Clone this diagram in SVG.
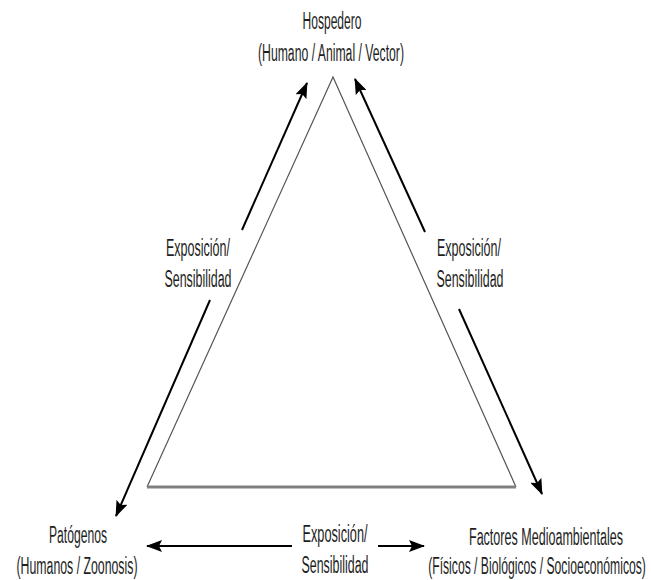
<svg xmlns="http://www.w3.org/2000/svg" width="651" height="580" viewBox="0 0 651 580">
<defs>
<style>
text{font-family:"Liberation Sans",Arial,sans-serif;font-size:23.5px;fill:#1e1e1e;text-anchor:middle}
.arr{stroke:#000;stroke-width:2;fill:none;marker-end:url(#ah)}
.side{stroke:#555;stroke-width:1.2;fill:none}
.base{stroke:#808080;stroke-width:3;fill:none}
</style>
<marker id="ah" markerUnits="userSpaceOnUse" markerWidth="16" markerHeight="12" viewBox="0 0 16 12" refX="15" refY="6" orient="auto">
<path d="M0,0 L16,6 L0,12 L3,6 z" fill="#000"/>
</marker>
</defs>
<rect width="651" height="580" fill="#fff"/>
<g id="triangle">
<path class="side" d="M147,487 L333,77 L516,487"/>
<line class="base" x1="147" y1="487" x2="516" y2="487"/>
</g>
<g id="connectors">
<line class="arr" x1="242" y1="230" x2="307" y2="83"/>
<line class="arr" x1="210" y1="300" x2="116" y2="516"/>
<line class="arr" x1="425" y1="232" x2="355" y2="79"/>
<line class="arr" x1="459" y1="309" x2="542" y2="494"/>
<line class="arr" x1="292" y1="546" x2="147" y2="546"/>
<line class="arr" x1="378" y1="546" x2="424" y2="546"/>
</g>
<g id="hospedero">
<text x="332" y="29" textLength="59" lengthAdjust="spacingAndGlyphs">Hospedero</text>
<text x="331" y="61" textLength="146" lengthAdjust="spacingAndGlyphs">(Humano / Animal / Vector)</text>
</g>
<g id="patogenos">
<text x="78" y="543" textLength="58" lengthAdjust="spacingAndGlyphs">Patógenos</text>
<text x="77" y="574" textLength="121" lengthAdjust="spacingAndGlyphs">(Humanos / Zoonosis)</text>
</g>
<g id="factores">
<text transform="translate(546,545) scale(0.534,1)" x="0" y="0">Factores Medioambientales</text>
<text transform="translate(537,574) scale(0.518,1)" x="0" y="0">(Físicos / Biológicos / Socioeconómicos)</text>
</g>
<g id="label-left">
<text x="198" y="256" textLength="64" lengthAdjust="spacingAndGlyphs">Exposición/</text>
<text x="198" y="287" textLength="67" lengthAdjust="spacingAndGlyphs">Sensibilidad</text>
</g>
<g id="label-right">
<text x="469" y="256" textLength="64" lengthAdjust="spacingAndGlyphs">Exposición/</text>
<text x="470" y="287" textLength="67" lengthAdjust="spacingAndGlyphs">Sensibilidad</text>
</g>
<g id="label-bottom">
<text x="335" y="542" textLength="65" lengthAdjust="spacingAndGlyphs">Exposición/</text>
<text x="335" y="573" textLength="67" lengthAdjust="spacingAndGlyphs">Sensibilidad</text>
</g>
</svg>
